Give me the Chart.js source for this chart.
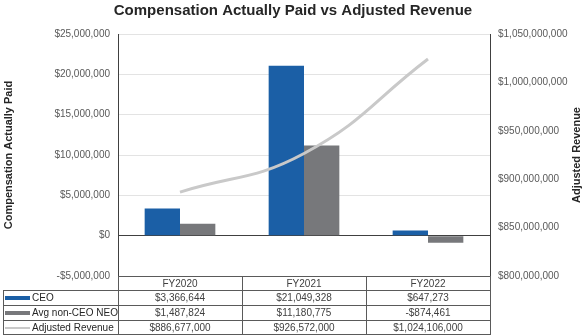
<!DOCTYPE html>
<html><head><meta charset="utf-8">
<script src="https://cdn.jsdelivr.net/npm/chart.js@4.4.1/dist/chart.umd.min.js"></script>
<style>html,body{margin:0;padding:0;background:#fff}#wrap{width:586px;height:335px;position:relative}</style>
</head><body><div id="wrap"><canvas id="c" width="586" height="335"></canvas></div>
<script>
const categories = ['FY2020', 'FY2021', 'FY2022'];
const seriesNames = ['CEO', 'Avg non-CEO NEO', 'Adjusted Revenue'];
const ceoValues = [3366644, 21049328, 647273];
const neoValues = [1487824, 11180775, -874461];
const revenueValues = [886677000, 926572000, 1024106000];
const leftTicks = { min: -5000000, max: 25000000, step: 5000000 };
const rightTicks = { min: 800000000, max: 1050000000, step: 50000000 };
const rightTitle = 'Adjusted Revenue';

const seriesColors = ['#1b5fa6', '#77787b', '#c9c9c9'];
const fmt = v => (v < 0 ? '-' : '') + '$' + Math.abs(v).toLocaleString('en-US');
const FONT = '"Liberation Sans", Arial, sans-serif';
Chart.defaults.font.family = FONT;

const tablePlugin = {
  id: 'dataTable',
  afterDraw(chart) {
    const { ctx, chartArea: a, scales: { x } } = chart;
    const half = (x.getPixelForValue(1) - x.getPixelForValue(0)) / 2;
    const top = Math.round(a.bottom);
    const rows = [top, top + 14, top + 29, top + 44, top + 58];
    const L = 3;
    const left = Math.round(a.left), right = Math.round(a.right);
    ctx.save();
    ctx.strokeStyle = '#5a5a5a';
    ctx.lineWidth = 1;
    const hl = (y, x0, x1) => { ctx.beginPath(); ctx.moveTo(x0, y + 0.5); ctx.lineTo(x1 + 1, y + 0.5); ctx.stroke(); };
    const vl = (xx, y0, y1) => { ctx.beginPath(); ctx.moveTo(xx + 0.5, y0); ctx.lineTo(xx + 0.5, y1 + 1); ctx.stroke(); };
    hl(rows[0], left, right);
    for (let i = 1; i < rows.length; i++) hl(rows[i], L, right);
    vl(L, rows[1], rows[4]);
    vl(left, rows[0], rows[4]);
    for (let i = 0; i < categories.length - 1; i++) vl(Math.round(x.getPixelForValue(i) + half), rows[0], rows[4]);
    vl(right, rows[0], rows[4]);

    ctx.font = '10px ' + FONT;
    ctx.textBaseline = 'middle';
    ctx.textAlign = 'center';
    ctx.fillStyle = '#404040';
    const data = [ceoValues, neoValues, revenueValues];
    categories.forEach((c, i) => {
      const cx = x.getPixelForValue(i);
      ctx.fillText(c, cx, (rows[0] + rows[1]) / 2 + 1);
      data.forEach((arr, r) => ctx.fillText(fmt(arr[i]), cx, (rows[r + 1] + rows[r + 2]) / 2 + 1));
    });
    ctx.textAlign = 'left';
    seriesNames.forEach((n, r) => {
      const cy = (rows[r + 1] + rows[r + 2]) / 2 + 0.5;
      ctx.fillStyle = seriesColors[r];
      if (r < 2) ctx.fillRect(5, Math.round(cy) - 2, 25, 4);
      else ctx.fillRect(5, Math.round(cy) - 1, 25, 2);
      ctx.fillStyle = '#262626';
      ctx.fillText(n, 32, cy + 0.5);
    });

    // right axis title, reading bottom-to-top
    ctx.save();
    ctx.translate(577, (a.top + a.bottom) / 2);
    ctx.rotate(-Math.PI / 2);
    ctx.font = 'bold 11px ' + FONT;
    ctx.textAlign = 'center';
    ctx.fillStyle = '#262626';
    ctx.fillText(rightTitle, 0, 0);
    ctx.restore();
    ctx.restore();
  }
};

new Chart(document.getElementById('c'), {
  type: 'bar',
  data: {
    labels: categories,
    datasets: [
      { type: 'line', label: seriesNames[2], data: revenueValues, yAxisID: 'y2', borderColor: seriesColors[2], borderWidth: 3, pointRadius: 0, tension: 0.45, order: 0 },
      { label: seriesNames[0], data: ceoValues, backgroundColor: seriesColors[0], yAxisID: 'y', order: 1, categoryPercentage: 0.57, barPercentage: 1 },
      { label: seriesNames[1], data: neoValues, backgroundColor: seriesColors[1], yAxisID: 'y', order: 1, categoryPercentage: 0.57, barPercentage: 1 }
    ]
  },
  options: {
    responsive: false,
    animation: false,
    layout: { padding: 0 },
    plugins: {
      legend: { display: false },
      tooltip: { enabled: false },
      title: { display: true, text: 'Compensation Actually Paid vs Adjusted Revenue', color: '#262626', font: { size: 15, weight: 'bold' }, padding: { top: 2, bottom: 14 } }
    },
    scales: {
      x: { grid: { display: false, drawTicks: false }, border: { display: true, color: '#404040' }, ticks: { display: false }, afterFit: s => { s.height = 59; } },
      y: {
        position: 'left', min: leftTicks.min, max: leftTicks.max,
        ticks: { stepSize: leftTicks.step, callback: v => fmt(v), color: '#595959', font: { size: 10 }, padding: 8 },
        grid: { color: c => (c.tick && c.tick.value === 0) ? '#404040' : '#e3e3e3', drawTicks: false },
        border: { color: '#404040' },
        title: { display: true, text: 'Compensation Actually Paid', color: '#262626', font: { size: 11, weight: 'bold' }, padding: { top: 2, bottom: 0 } },
        afterFit: s => { s.width = 118; }
      },
      y2: {
        position: 'right', min: rightTicks.min, max: rightTicks.max,
        ticks: { stepSize: rightTicks.step, callback: v => fmt(v), color: '#595959', font: { size: 10 }, padding: 8 },
        grid: { display: false, drawTicks: false },
        border: { color: '#404040' },
        title: { display: false },
        afterFit: s => { s.width = 96; }
      }
    }
  },
  plugins: [tablePlugin]
});
</script></body></html>
